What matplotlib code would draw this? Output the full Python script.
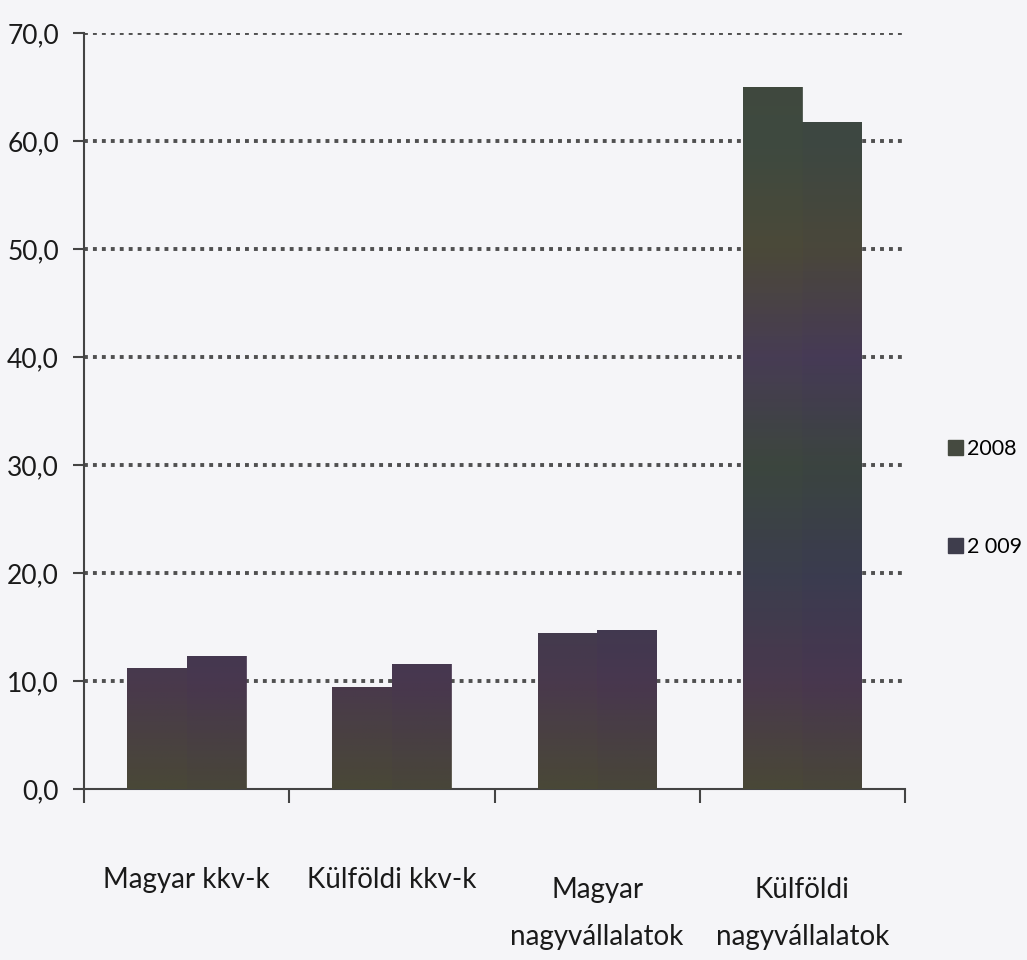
import numpy as np
import matplotlib
matplotlib.use("Agg")
import matplotlib.pyplot as plt
from matplotlib.colors import LinearSegmentedColormap
from matplotlib.ticker import FuncFormatter
from matplotlib.patches import Patch

plt.rcParams["font.family"] = ["Lato", "DejaVu Sans"]

categories = ["Magyar kkv-k", "Külföldi kkv-k", "Magyar\nnagyvállalatok", "Külföldi\nnagyvállalatok"]
series_labels = ["2008", "2 009"]
values_2008 = [11.2, 9.4, 14.4, 65.0]
values_2009 = [12.3, 11.6, 14.7, 61.8]
y_ticks = [0, 10, 20, 30, 40, 50, 60, 70]

# scanned-looking colour bands (bottom -> top, by value)
band_colors = ["#4a4836", "#4a3650", "#3a3c50", "#3b463e", "#483a58", "#4d4938", "#3d4a40", "#41473c"]
band_cmap = LinearSegmentedColormap.from_list("bands", band_colors)

fig = plt.figure(figsize=(10.27, 9.6), dpi=100, facecolor="#f5f5f8")
ax = fig.add_axes([84 / 1027, 1 - 789 / 960, (905 - 84) / 1027, (789 - 33) / 960])
ax.set_facecolor("#f5f5f8")

x = np.arange(len(categories))
w = 0.29
bars_a = ax.bar(x - w / 2, values_2008, w, color="#454a40", zorder=3)
bars_b = ax.bar(x + w / 2, values_2009, w, color="#3e3d4c", zorder=3)

grad = np.linspace(0, 1, 256).reshape(-1, 1)
for bar in list(bars_a) + list(bars_b):
    x0 = bar.get_x()
    im = ax.imshow(grad, cmap=band_cmap, origin="lower", aspect="auto",
                   extent=[x0, x0 + bar.get_width(), 0, 70], zorder=4, alpha=0.85)
    im.set_clip_path(bar)

ax.set_xlim(-0.5, 3.5)
ax.set_ylim(0, 70)
ax.set_yticks(y_ticks)
ax.yaxis.set_major_formatter(FuncFormatter(lambda v, p: f"{v:.1f}".replace(".", ",")))
ax.tick_params(axis="y", labelsize=19, length=8, width=1.5, color="#444", pad=10, labelcolor="#1a1a1a")

ax.set_xticks([-0.5, 0.5, 1.5, 2.5, 3.5])
ax.set_xticklabels([])
ax.tick_params(axis="x", length=10, width=1.5, color="#444")

for yv in y_ticks[1:]:
    ax.axhline(yv, color="#505050", linestyle=(0, (1, 1.3)), linewidth=2.8, zorder=2)

for s in ["top", "right"]:
    ax.spines[s].set_visible(False)
for s in ["left", "bottom"]:
    ax.spines[s].set_color("#444")
    ax.spines[s].set_linewidth(1.5)

# category labels under the axis
trans = ax.get_xaxis_transform()
for i, lab in enumerate(categories):
    lines = lab.split("\n")
    if len(lines) == 1:
        ax.text(i, -0.131, lines[0], transform=trans, ha="center", va="baseline",
                fontsize=20, color="#1a1a1a", clip_on=False)
    else:
        ax.text(i, -0.144, lines[0], transform=trans, ha="center", va="baseline",
                fontsize=20, color="#1a1a1a", clip_on=False)
        ax.text(i, -0.206, lines[1], transform=trans, ha="center", va="baseline",
                fontsize=20, color="#1a1a1a", clip_on=False)

handles = [Patch(color="#454a40"), Patch(color="#3e3d4c")]
fig.legend(handles, series_labels, loc="center left", bbox_to_anchor=(948 / 1027, 1 - 498 / 960),
           frameon=False, fontsize=15.5, handlelength=0.7, handleheight=0.7,
           handletextpad=0.2, labelspacing=3.6, borderaxespad=0, borderpad=0)

fig.savefig("out.png", dpi=100, facecolor=fig.get_facecolor())
